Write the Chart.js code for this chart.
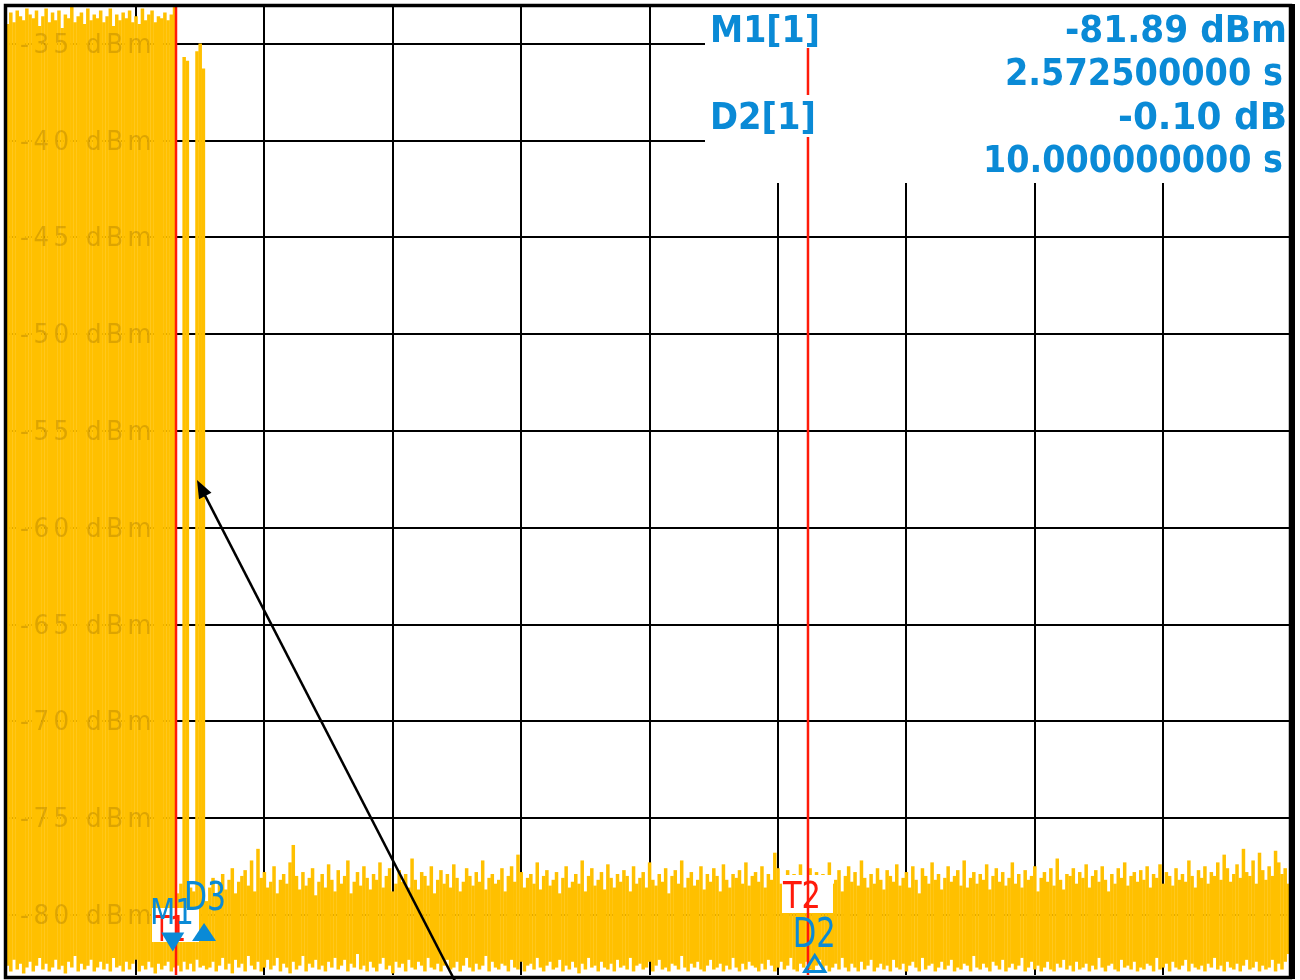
<!DOCTYPE html>
<html>
<head>
<meta charset="utf-8">
<script src="https://cdn.jsdelivr.net/npm/chart.js@4.4.1/dist/chart.umd.min.js"></script>
<style>
  html, body { margin: 0; padding: 0; background: #fff; }
  canvas { display: block; }
</style>
</head>
<body>
<canvas id="trace" width="1300" height="980"></canvas>
<script>
// zero span trace, 20 s sweep, 400 points, each point drawn as min..max bar
const sweepTime = 20;
const points = 400;

// burst part (points 0..52)
const burstTop = [
  -34.0,-33.4,-33.9,-33.3,-33.6,-33.8,-33.2,-33.5,-33.7,-33.3,
  -34.1,-33.6,-33.2,-33.9,-33.4,-33.8,-33.3,-34.2,-33.5,-33.7,
  -33.1,-33.9,-33.6,-33.4,-34.0,-33.2,-33.8,-33.5,-33.7,-33.3,
  -33.9,-33.6,-33.2,-34.1,-33.5,-33.8,-33.4,-33.7,-33.3,-33.9,
  -33.6,-34.0,-33.2,-33.8,-33.5,-33.3,-33.9,-33.6,-33.7,-33.4,
  -33.8,-33.5,-33.1
];
const burstBottom = [
  -82.6,-82.9,-82.3,-82.8,-82.5,-83.0,-82.7,-82.4,-82.9,-82.6,
  -82.2,-82.8,-82.5,-82.9,-82.7,-82.3,-82.8,-82.6,-83.0,-82.4,
  -82.7,-82.1,-82.9,-82.5,-82.8,-82.6,-82.3,-82.9,-82.7,-82.4,
  -82.8,-82.5,-82.9,-82.2,-82.7,-82.6,-82.9,-82.4,-82.8,-82.5,
  -82.3,-82.9,-82.6,-82.8,-82.4,-82.7,-83.0,-82.5,-82.8,-82.6,
  -82.4,-82.9,-82.7
];

// after the burst (points 53..399): a few late pulses, then noise floor
const tailTop = [
  -78.9,-78.4,-35.7,-35.9,-78.6,-78.8,-35.4,-35.0,-36.3,-79.3,
  -78.6,-78.1,-79.0,-78.4,-77.9,-78.7,-78.2,-77.6,-78.9,-78.3,
  -78.0,-77.7,-78.5,-77.2,-78.8,-76.6,-78.1,-77.8,-78.6,-78.3,
  -77.5,-78.9,-78.2,-77.9,-78.4,-77.3,-76.4,-78.0,-78.7,-77.8,
  -78.5,-78.1,-77.6,-79.0,-78.3,-77.9,-78.6,-77.4,-78.2,-78.8,
  -77.7,-78.4,-78.0,-77.2,-78.9,-78.3,-77.8,-78.5,-77.5,-78.1,
  -78.7,-77.9,-78.2,-77.3,-78.6,-78.0,-77.6,-78.8,-78.4,-77.7,
  -78.3,-77.9,-78.6,-77.1,-78.2,-78.7,-77.8,-78.0,-78.5,-77.5,
  -78.9,-78.2,-77.7,-78.4,-77.9,-78.6,-77.4,-78.1,-78.8,-78.3,
  -77.6,-78.0,-78.5,-77.8,-78.3,-77.2,-78.7,-78.1,-77.9,-78.4,
  -78.2,-77.6,-78.8,-78.0,-77.5,-78.3,-76.9,-77.8,-78.6,-78.1,
  -77.9,-78.4,-77.3,-78.7,-78.0,-77.7,-78.5,-78.2,-77.8,-78.9,
  -78.1,-77.5,-78.6,-78.3,-77.9,-78.4,-77.2,-78.8,-78.0,-77.6,
  -78.5,-78.2,-77.8,-78.7,-77.4,-78.1,-78.6,-77.9,-78.3,-77.7,
  -78.0,-78.8,-77.5,-78.4,-78.1,-77.8,-78.6,-77.3,-78.2,-78.5,
  -77.9,-78.3,-77.6,-78.9,-78.0,-77.7,-78.4,-77.2,-78.6,-78.1,
  -77.8,-78.5,-78.2,-77.5,-78.7,-77.9,-78.3,-77.6,-78.0,-78.8,
  -77.4,-78.2,-78.6,-77.9,-78.1,-77.7,-78.4,-77.3,-78.5,-78.0,
  -77.8,-78.3,-77.5,-78.6,-77.9,-78.2,-76.8,-77.6,-78.4,-78.1,
  -77.7,-78.5,-77.9,-78.2,-77.4,-78.7,-78.0,-77.6,-78.3,-77.8,
  -78.6,-77.9,-78.1,-77.3,-78.4,-78.2,-77.7,-78.8,-78.0,-77.5,
  -78.3,-77.8,-78.5,-77.2,-78.1,-78.6,-77.9,-78.4,-77.6,-78.2,
  -78.7,-77.7,-78.0,-78.3,-77.4,-78.5,-78.1,-77.8,-78.6,-77.5,
  -78.2,-78.9,-77.6,-78.0,-78.4,-77.3,-78.2,-77.9,-78.7,-78.1,
  -77.5,-78.3,-78.0,-77.7,-78.5,-77.2,-78.6,-78.1,-77.8,-78.4,
  -77.9,-78.2,-77.4,-78.7,-78.0,-77.6,-78.3,-77.8,-78.5,-78.1,
  -77.3,-78.4,-77.9,-78.6,-77.7,-78.2,-78.0,-77.5,-78.8,-78.1,
  -77.8,-78.3,-77.6,-78.5,-77.1,-78.2,-78.7,-77.9,-78.0,-77.6,
  -78.4,-77.8,-78.1,-77.4,-78.6,-78.0,-77.7,-78.3,-77.5,-78.2,
  -78.8,-77.9,-78.4,-77.6,-78.1,-77.3,-78.5,-78.0,-77.8,-78.3,
  -77.7,-78.2,-77.5,-78.6,-77.9,-78.1,-77.4,-78.4,-77.8,-78.0,
  -78.5,-77.6,-78.2,-77.9,-78.3,-77.2,-78.0,-78.6,-77.7,-78.1,
  -77.5,-78.4,-77.8,-78.0,-77.3,-78.2,-76.9,-77.6,-78.3,-77.9,
  -77.4,-78.1,-76.6,-77.8,-78.0,-77.2,-78.4,-76.8,-77.7,-78.2,
  -77.5,-78.0,-76.7,-77.3,-77.9,-77.6,-78.4
];
const tailBottom = [
  -82.6,-82.9,-82.4,-82.8,-82.5,-82.9,-82.3,-82.7,-82.6,-82.8,
  -82.7,-82.4,-82.9,-82.6,-82.2,-82.8,-82.5,-83.0,-82.3,-82.7,
  -82.5,-82.9,-82.1,-82.6,-82.8,-82.4,-82.9,-82.7,-82.3,-82.8,
  -82.6,-82.2,-82.9,-82.5,-82.7,-83.0,-82.4,-82.8,-82.6,-82.1,
  -82.9,-82.5,-82.7,-82.3,-82.8,-82.6,-82.9,-82.4,-82.7,-82.2,
  -82.8,-82.6,-82.3,-82.9,-82.5,-82.7,-82.0,-82.8,-82.6,-82.9,
  -82.4,-82.7,-82.9,-82.5,-82.2,-82.8,-82.6,-83.0,-82.4,-82.7,
  -82.5,-82.9,-82.3,-82.7,-82.8,-82.4,-82.6,-82.9,-82.2,-82.7,
  -82.8,-82.5,-82.9,-82.6,-82.3,-82.8,-82.7,-82.4,-82.9,-82.6,
  -82.2,-82.7,-82.9,-82.5,-82.8,-82.6,-82.1,-82.9,-82.4,-82.7,
  -82.8,-82.5,-82.6,-82.9,-82.3,-82.7,-82.8,-82.4,-82.9,-82.6,
  -82.5,-82.8,-82.2,-82.7,-82.9,-82.6,-82.4,-82.8,-82.7,-82.3,
  -82.9,-82.6,-82.8,-82.4,-82.7,-83.0,-82.5,-82.8,-82.2,-82.7,
  -82.6,-82.9,-82.4,-82.7,-82.8,-82.5,-82.9,-82.3,-82.7,-82.6,
  -82.8,-82.2,-82.9,-82.6,-82.5,-82.8,-82.7,-82.4,-82.9,-82.6,
  -82.3,-82.8,-82.7,-82.9,-82.5,-82.6,-82.8,-82.1,-82.7,-82.9,
  -82.5,-82.7,-82.4,-82.8,-82.9,-82.6,-82.3,-82.8,-82.7,-82.5,
  -82.9,-82.6,-82.8,-82.2,-82.7,-82.9,-82.5,-82.8,-82.4,-82.6,
  -82.7,-82.9,-82.5,-82.8,-82.3,-82.6,-82.9,-82.7,-82.4,-82.8,
  -82.6,-82.2,-82.8,-82.9,-82.5,-82.7,-82.4,-82.8,-82.9,-82.6,
  -82.3,-82.8,-82.6,-82.9,-82.7,-82.5,-82.8,-82.2,-82.7,-82.9,
  -82.5,-82.7,-82.9,-82.4,-82.8,-82.6,-82.3,-82.9,-82.7,-82.5,
  -82.8,-82.6,-82.9,-82.3,-82.7,-82.8,-82.5,-82.9,-82.6,-82.4,
  -82.7,-82.9,-82.2,-82.8,-82.6,-82.5,-82.9,-82.7,-82.4,-82.8,
  -82.6,-82.3,-82.9,-82.7,-82.8,-82.5,-82.6,-82.9,-82.1,-82.7,
  -82.8,-82.5,-82.7,-82.9,-82.4,-82.6,-82.8,-82.3,-82.9,-82.7,
  -82.5,-82.8,-82.6,-82.2,-82.9,-82.7,-82.4,-82.8,-82.6,-82.9,
  -82.7,-82.4,-82.8,-82.9,-82.5,-82.7,-82.3,-82.8,-82.6,-82.9,
  -82.4,-82.8,-82.7,-82.5,-82.9,-82.6,-82.8,-82.2,-82.7,-82.9,
  -82.6,-82.5,-82.8,-82.9,-82.3,-82.7,-82.6,-82.8,-82.4,-82.9,
  -82.7,-82.8,-82.5,-82.6,-82.9,-82.2,-82.8,-82.7,-82.5,-82.9,
  -82.4,-82.7,-82.8,-82.6,-82.3,-82.9,-82.5,-82.7,-82.8,-82.6,
  -82.9,-82.5,-82.7,-82.2,-82.8,-82.6,-82.9,-82.4,-82.7,-82.8,
  -82.5,-82.9,-82.6,-82.3,-82.8,-82.7,-82.4,-82.9,-82.6,-82.8,
  -82.7,-82.3,-82.9,-82.5,-82.8,-82.4,-82.0
];

const yTicks = [-35, -40, -45, -50, -55, -60, -65, -70, -75, -80];
const yLabels = ['-35 dBm', '-40 dBm', '-45 dBm', '-50 dBm', '-55 dBm', '-60 dBm', '-65 dBm', '-70 dBm', '-75 dBm', '-80 dBm'];
const xTicks = [2, 4, 6, 8, 10, 12, 14, 16, 18];

// markers / time lines
const m1 = { t: 2.5725, level: -81.89 };
const d2 = { t: 12.5725, level: -81.99 };
const d3 = { t: 3.06, level: -80.42 };
const t1 = 2.623;
const t2 = 12.467;

const infoRows = [
  ['M1[1]', '-81.89 dBm'],
  ['', '2.572500000 s'],
  ['D2[1]', '-0.10 dB'],
  ['', '10.000000000 s']
];

const BLUE = '#0a8ad6';
const RED = '#ff1a0a';
const YELLOW = '#ffc000';

const times = Array.from({ length: points }, (_, i) => i * sweepTime / points);
const top_ = burstTop.concat(tailTop);
const bot_ = burstBottom.concat(tailBottom);
const bars = top_.map((v, i) => [bot_[i], v]);

function txt(ctx, s, x, y, font, color, align, w) {
  ctx.font = font;
  ctx.fillStyle = color;
  ctx.textAlign = align || 'left';
  ctx.textBaseline = 'alphabetic';
  if (w) ctx.fillText(s, x, y, w); else ctx.fillText(s, x, y);
}

function tri(ctx, x, y, w, h, up, fill) {
  ctx.beginPath();
  ctx.moveTo(x, y);
  ctx.lineTo(x - w / 2, y + (up ? h : -h));
  ctx.lineTo(x + w / 2, y + (up ? h : -h));
  ctx.closePath();
  if (fill) { ctx.fillStyle = BLUE; ctx.fill(); }
  else { ctx.strokeStyle = BLUE; ctx.lineWidth = 3; ctx.stroke(); }
}

const overlay = {
  id: 'overlay',
  beforeDatasetsDraw(chart) {
    const { ctx, chartArea: a } = chart;
    ctx.save();
    ctx.fillStyle = '#fff';
    ctx.fillRect(705, a.top, a.right - 705, 183 - a.top);
    ctx.restore();
  },
  afterDatasetsDraw(chart) {
    const { ctx, chartArea: a } = chart;
    const xs = chart.scales.x, ys = chart.scales.y;
    ctx.save();

    // faint level labels inside the trace
    ctx.letterSpacing = '5px';
    yTicks.forEach((v, i) => {
      ctx.font = '27px "DejaVu Sans"';
      ctx.fillStyle = 'rgba(150,105,0,0.32)';
      ctx.textAlign = 'left';
      ctx.textBaseline = 'middle';
      ctx.fillText(yLabels[i], 20, ys.getPixelForValue(v) + 2, 136);
    });
    ctx.letterSpacing = '0px';

    // white label boxes for T1 / T2
    const xT1 = xs.getPixelForValue(t1), xT2 = xs.getPixelForValue(t2);
    ctx.fillStyle = '#fff';
    ctx.fillRect(152, 908, 47, 34);
    ctx.fillRect(xT2 - 26, 875, 51, 38);

    // time lines
    ctx.strokeStyle = RED;
    ctx.lineWidth = 2.5;
    ctx.beginPath();
    ctx.moveTo(xT1, a.top); ctx.lineTo(xT1, a.bottom);
    ctx.moveTo(xT2, 48); ctx.lineTo(xT2, a.bottom);
    ctx.stroke();

    // marker info rows
    ctx.fillStyle = '#fff';
    ctx.fillRect(705, a.top, a.right - 705, 48 - a.top);
    ctx.fillRect(705, 95, a.right - 705, 42);
    const base = [42, 85, 129, 172];
    const wL = [110, 0, 106, 0];
    const wR = [222, 278, 169, 300];
    const rx = [1287, 1283, 1287, 1283];
    infoRows.forEach((r, i) => {
      if (r[0]) txt(ctx, r[0], 710, base[i], 'bold 38px "DejaVu Sans"', BLUE, 'left', wL[i]);
      txt(ctx, r[1], rx[i], base[i], 'bold 38px "DejaVu Sans"', BLUE, 'right', wR[i]);
    });

    // markers
    txt(ctx, 'T1', 154, 941, '36px "DejaVu Sans"', RED, 'left', 32);
    txt(ctx, 'M1', 150, 924, '36px "DejaVu Sans"', BLUE, 'left', 44);
    txt(ctx, 'D3', 184, 910, '39px "DejaVu Sans"', BLUE, 'left', 42);
    tri(ctx, xs.getPixelForValue(m1.t), ys.getPixelForValue(m1.level), 23, 19, false, true);
    tri(ctx, xs.getPixelForValue(d3.t), ys.getPixelForValue(d3.level), 24, 18, true, true);
    txt(ctx, 'T2', xT2 - 25, 908, '37px "DejaVu Sans"', RED, 'left', 38);
    txt(ctx, 'D2', xs.getPixelForValue(d2.t) - 22, 947, '40px "DejaVu Sans"', BLUE, 'left', 43);
    tri(ctx, xs.getPixelForValue(d2.t), ys.getPixelForValue(d2.level) + 2, 20, 16, true, false);

    // arrow annotation
    ctx.strokeStyle = '#000';
    ctx.fillStyle = '#000';
    ctx.lineWidth = 2.5;
    const x0 = 457, y0 = 985, x1 = 197, y1 = 480;
    const ang = Math.atan2(y1 - y0, x1 - x0);
    ctx.beginPath();
    ctx.moveTo(x0, y0);
    ctx.lineTo(x1 - 12 * Math.cos(ang), y1 - 12 * Math.sin(ang));
    ctx.stroke();
    ctx.beginPath();
    ctx.moveTo(x1, y1);
    ctx.lineTo(x1 - 18 * Math.cos(ang) + 7 * Math.sin(ang), y1 - 18 * Math.sin(ang) - 7 * Math.cos(ang));
    ctx.lineTo(x1 - 18 * Math.cos(ang) - 7 * Math.sin(ang), y1 - 18 * Math.sin(ang) + 7 * Math.cos(ang));
    ctx.closePath();
    ctx.fill();

    // frame
    ctx.strokeStyle = '#000';
    ctx.lineWidth = 3.5;
    ctx.strokeRect(a.left - 0.5, a.top - 0.5, a.right - a.left + 1, a.bottom - a.top + 3);
    ctx.fillStyle = '#000';
    ctx.fillRect(a.right, a.top - 2, 5, a.bottom - a.top + 6);
    ctx.restore();
  }
};

new Chart(document.getElementById('trace'), {
  type: 'bar',
  data: {
    labels: times,
    datasets: [{
      data: bars,
      backgroundColor: YELLOW,
      borderWidth: 0,
      barThickness: 2.85
    }]
  },
  options: {
    responsive: false,
    devicePixelRatio: 1,
    animation: false,
    layout: { padding: { left: 6, right: 10, top: 6, bottom: 5 } },
    plugins: { legend: { display: false }, tooltip: { enabled: false } },
    scales: {
      x: {
        type: 'linear',
        min: -0.025,
        max: 19.975,
        offset: false,
        grid: { color: '#000', lineWidth: 2, drawTicks: false, offset: false },
        border: { display: false },
        ticks: { display: false },
        afterBuildTicks: s => { s.ticks = xTicks.map(v => ({ value: v })); }
      },
      y: {
        min: -83.1,
        max: -33.05,
        grid: { color: '#000', lineWidth: 2, drawTicks: false },
        border: { display: false },
        ticks: { display: false },
        afterBuildTicks: s => { s.ticks = yTicks.map(v => ({ value: v })); }
      }
    }
  },
  plugins: [overlay]
});
</script>
</body>
</html>
